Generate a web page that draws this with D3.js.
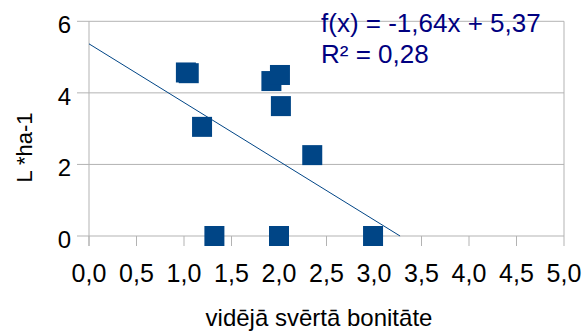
<!DOCTYPE html>
<html><head><meta charset="utf-8">
<script src="https://cdn.jsdelivr.net/npm/d3@7"></script>
<style>body{margin:0;background:#fff}svg{display:block}text{font-family:"Liberation Sans",Arial,sans-serif}</style>
</head><body>
<script>
const xValues = [1.02, 1.05, 1.19, 1.92, 2.01, 2.02, 2.35, 1.32, 2.00, 2.99];
const yValues = [4.57, 4.55, 3.05, 4.33, 4.50, 3.63, 2.26, 0, 0, 0];
const xTicks = [0, 0.5, 1, 1.5, 2, 2.5, 3, 3.5, 4, 4.5, 5];
const yTicks = [0, 2, 4, 6];
const trend = {slope: -1.64, intercept: 5.37};
const eqLabels = ["f(x) = -1,64x + 5,37", "R² = 0,28"];
const xTitle = "vidējā svērtā bonitāte";
const yTitle = "L *ha-1";

const W = 584, H = 331;
const svg = d3.select("body").append("svg").attr("width", W).attr("height", H);
const x = d3.scaleLinear().domain([0, 5]).range([89, 564]);
const y = d3.scaleLinear().domain([0, 6]).range([236, 21.3]);
const grid = "#b3b3b3";
const fmt = v => d3.format(".1f")(v).replace(".", ",");

svg.append("g").selectAll("line").data(yTicks).join("line")
  .attr("x1", 77).attr("x2", x(5)).attr("y1", d => y(d)).attr("y2", d => y(d))
  .attr("stroke", grid).attr("stroke-width", 1);
svg.append("line").attr("x1", x(0)).attr("x2", x(0)).attr("y1", y(6)).attr("y2", y(0) + 10).attr("stroke", grid);
svg.append("line").attr("x1", x(5)).attr("x2", x(5)).attr("y1", y(6)).attr("y2", y(0)).attr("stroke", grid);
svg.append("g").selectAll("line").data(xTicks).join("line")
  .attr("x1", d => x(d)).attr("x2", d => x(d)).attr("y1", y(0)).attr("y2", y(0) + 10)
  .attr("stroke", grid);

svg.append("g").selectAll("text").data(yTicks).join("text")
  .attr("x", 71).attr("y", d => y(d) + 12).attr("text-anchor", "end")
  .attr("font-size", 24).attr("fill", "#000").text(d => d);
svg.append("g").selectAll("text").data(xTicks).join("text")
  .attr("x", d => x(d)).attr("y", 282).attr("text-anchor", "middle")
  .attr("font-size", 25).attr("fill", "#000").text(fmt);

const pts = xValues.map((v, i) => [v, yValues[i]]);
const s = 20;
svg.append("g").selectAll("rect").data(pts).join("rect")
  .attr("x", d => x(d[0]) - s / 2).attr("y", d => y(d[1]) - s / 2)
  .attr("width", s).attr("height", s).attr("fill", "#004586");

const x0 = 0, x1 = -trend.intercept / trend.slope;
svg.append("line")
  .attr("x1", x(x0)).attr("y1", y(trend.intercept + trend.slope * x0))
  .attr("x2", x(x1)).attr("y2", y(trend.intercept + trend.slope * x1))
  .attr("stroke", "#004586").attr("stroke-width", 1);

svg.append("g").selectAll("text").data(eqLabels).join("text")
  .attr("x", 321).attr("y", (d, i) => 32 + i * 31)
  .attr("font-size", 26).attr("fill", "#000080").text(d => d);

svg.append("text").attr("x", 319).attr("y", 326)
  .attr("text-anchor", "middle").attr("font-size", 24).attr("fill", "#000").text(xTitle);
svg.append("text").attr("transform", "translate(32,147.5) rotate(-90)")
  .attr("text-anchor", "middle").attr("font-size", 22).attr("fill", "#000").text(yTitle);
</script>
</body></html>
